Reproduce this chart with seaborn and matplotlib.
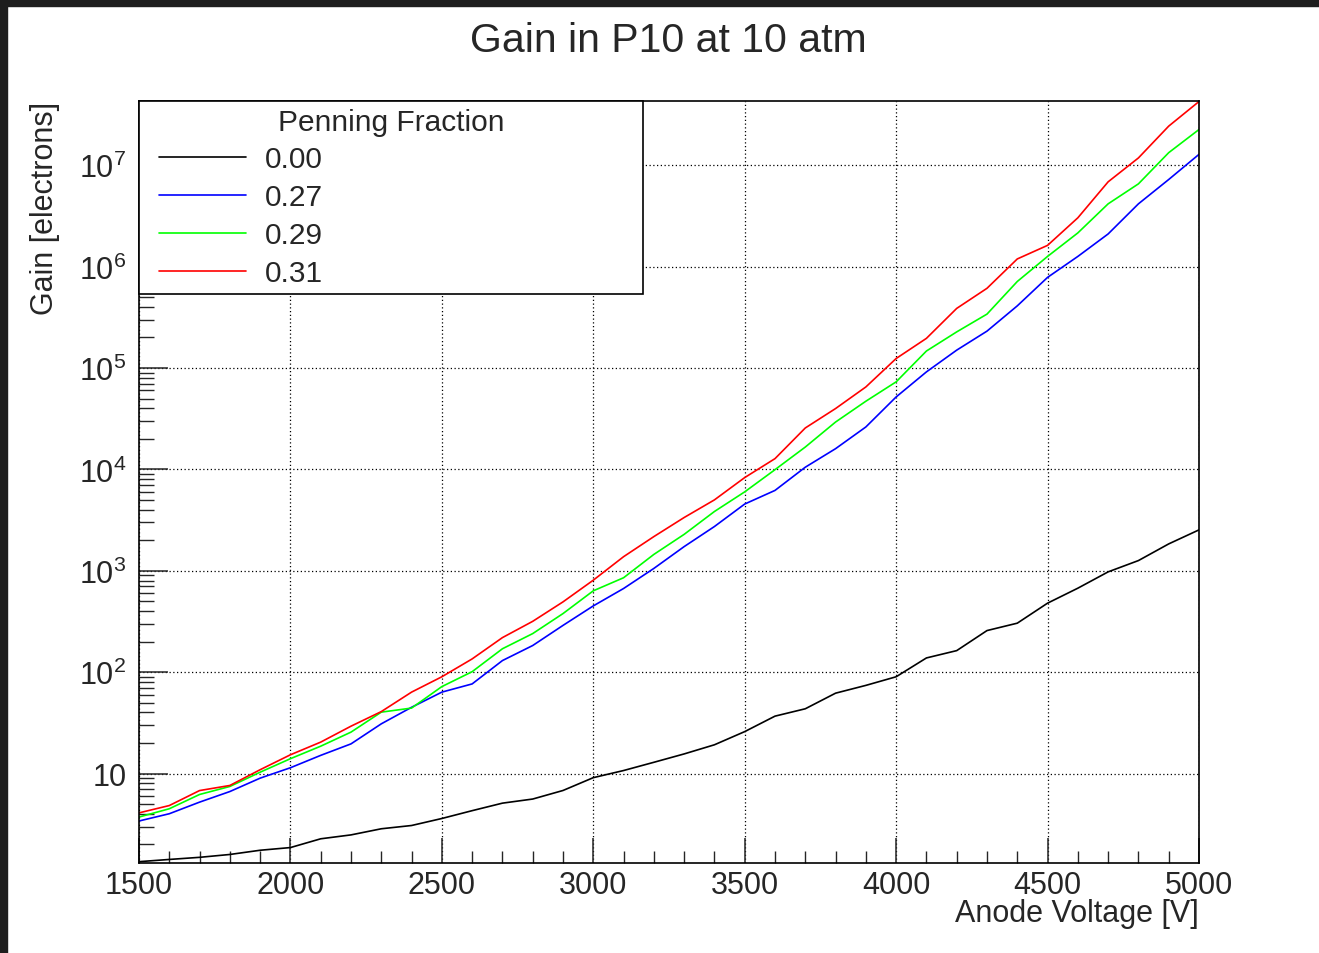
import numpy as np
import pandas as pd
import matplotlib
matplotlib.use("Agg")
import matplotlib.pyplot as plt
import matplotlib.ticker as mticker
from matplotlib.lines import Line2D
from matplotlib.legend_handler import HandlerLine2D
from matplotlib.patches import Rectangle
import seaborn as sns

# <--- data --->
voltage = [1500, 1600, 1700, 1800, 1900, 2000, 2100, 2200, 2300, 2400,
           2500, 2600, 2700, 2800, 2900, 3000, 3100, 3200, 3300, 3400,
           3500, 3600, 3700, 3800, 3900, 4000, 4100, 4200, 4300, 4400,
           4500, 4600, 4700, 4800, 4900, 5000]

gain_000 = [1.35, 1.42, 1.49, 1.59, 1.75, 1.86, 2.27, 2.48, 2.85, 3.07,
            3.6, 4.3, 5.1, 5.6, 6.8, 9.1, 10.7, 12.9, 15.6, 19.2,
            25.9, 36.8, 43.5, 62, 74, 90, 138, 163, 257, 304,
            479, 673, 975, 1260, 1840, 2530]

gain_027 = [3.40, 4.01, 5.22, 6.64, 9.0, 11.4, 15.1, 19.6, 30.9, 45,
            63.5, 76.5, 130, 183, 289, 450, 668, 1054, 1730, 2730,
            4550, 6200, 10500, 16000, 26200, 51800, 91500, 150000, 231000, 410000,
            783000, 1.26e6, 2.1e6, 4.16e6, 7.23e6, 1.28e7]

gain_029 = [3.72, 4.49, 6.21, 7.45, 10.3, 14.0, 18.6, 25.6, 40.3, 44.2,
            72, 101, 170, 240, 378, 634, 853, 1449, 2285, 3840,
            6000, 9930, 16600, 29300, 47000, 73000, 147000, 227000, 340000, 713000,
            1.26e6, 2.15e6, 4.16e6, 6.55e6, 1.33e7, 2.25e7]

gain_031 = [4.09, 4.83, 6.79, 7.62, 10.9, 15.3, 20.4, 29.3, 40.8, 63.5,
            90, 135, 219, 317, 493, 807, 1376, 2172, 3350, 5000,
            8300, 12760, 25600, 39800, 65000, 124000, 196000, 387000, 611000, 1.19e6,
            1.62e6, 3.03e6, 6.86e6, 1.18e7, 2.43e7, 4.25e7]

fractions = ["0.00", "0.27", "0.29", "0.31"]
colors = ["black", "#0000ff", "#00ff00", "#ff0000"]
y_decades = [1e1, 1e2, 1e3, 1e4, 1e5, 1e6, 1e7]

df = pd.DataFrame({
    "voltage": voltage * 4,
    "gain": gain_000 + gain_027 + gain_029 + gain_031,
    "fraction": np.repeat(fractions, len(voltage)),
})

sns.set_style("white")
plt.rcParams["font.family"] = ["Liberation Sans", "DejaVu Sans"]
plt.rcParams["mathtext.fontset"] = "custom"
plt.rcParams["mathtext.rm"] = "Liberation Sans"
plt.rcParams["mathtext.it"] = "Liberation Sans:italic"

fig = plt.figure(figsize=(13.19, 9.54), dpi=100)
ax = fig.add_axes([0.10538, 0.09434, 0.80364, 0.79874])

for frac, col in zip(fractions, colors):
    sns.lineplot(data=df[df["fraction"] == frac], x="voltage", y="gain",
                 color=col, lw=1.2, label=frac, estimator=None,
                 errorbar=None, ax=ax)

ax.set_yscale("log")
ax.set_xlim(1500, 5000)
ax.set_ylim(1.31, 4.3e7)

ax.xaxis.set_major_locator(mticker.MultipleLocator(500))
ax.xaxis.set_minor_locator(mticker.MultipleLocator(100))
ax.yaxis.set_major_locator(mticker.FixedLocator(y_decades))
ax.yaxis.set_minor_locator(mticker.LogLocator(base=10, subs=np.arange(2, 10), numticks=20))
ax.yaxis.set_minor_formatter(mticker.NullFormatter())


def decade_label(v, pos):
    n = int(round(np.log10(v)))
    return "10" if n == 1 else r"$10^{%d}$" % n


ax.yaxis.set_major_formatter(mticker.FuncFormatter(decade_label))

ax.tick_params(axis="x", which="major", direction="in", length=18, width=1.1,
               labelsize=22, pad=5, top=False, bottom=True)
ax.tick_params(axis="x", which="minor", direction="in", length=8.6, width=1.0,
               top=False, bottom=True)
ax.tick_params(axis="y", which="major", direction="in", length=21, width=1.1,
               labelsize=22, pad=9, left=True, right=False)
ax.tick_params(axis="y", which="minor", direction="in", length=10.8, width=1.0,
               left=True, right=False)

ax.grid(True, which="major", color="black", linestyle=(0, (1, 2)), linewidth=0.9)
for s in ax.spines.values():
    s.set_color("black")
    s.set_linewidth(1.2)

ax.set_xlabel("Anode Voltage [V]", fontsize=22)
ax.xaxis.set_label_coords(1.0, -0.0656)
ax.xaxis.label.set_ha("right")
ax.xaxis.label.set_va("center")
ax.set_ylabel("Gain [electrons]", fontsize=22)
ax.yaxis.set_label_coords(-0.0745, 1.0)
ax.yaxis.label.set_ha("right")

fig.text(668 / 1319, 1 - 41 / 954, "Gain in P10 at 10 atm", fontsize=29.5,
         ha="center", va="center")

leg = ax.legend(title="Penning Fraction", loc="upper left",
                bbox_to_anchor=(0, 0.75, 0.4755, 0.25), mode="expand",
                borderaxespad=0, borderpad=0.22, fontsize=21.5,
                title_fontsize=21.5, handlelength=3.35, handletextpad=0.64,
                labelspacing=0.33, fancybox=False, framealpha=1,
                edgecolor="black",
                handler_map={Line2D: HandlerLine2D(xpad=0.435)})
leg.get_frame().set_linewidth(1.2)

# dark strips at the top and left edge of the screenshot
fig.patches.append(Rectangle((0, 1 - 7 / 954), 1, 7 / 954,
                             transform=fig.transFigure, color="#1e1e1e"))
fig.patches.append(Rectangle((0, 0), 7 / 1319, 1,
                             transform=fig.transFigure, color="#1e1e1e"))

fig.savefig("out.png", dpi=100)
